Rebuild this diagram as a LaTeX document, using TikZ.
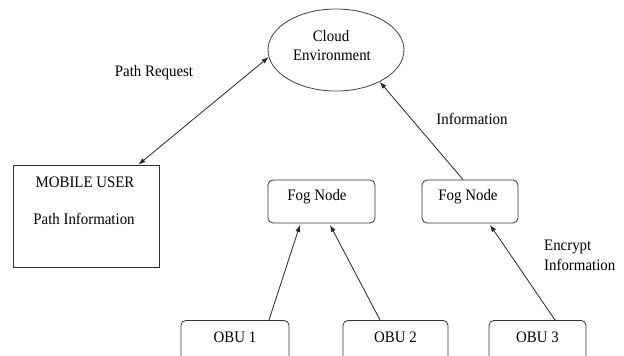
\documentclass[tikz,border=0pt]{standalone}
\usepackage{fontspec}
\setmainfont[FakeStretch=0.93]{Liberation Serif}
\usetikzlibrary{arrows.meta,calc,shapes.geometric}
\begin{document}
\begin{tikzpicture}[x=1pt,y=-1pt,
  every node/.style={font=\fontsize{16}{19}\selectfont, text=black},
  line/.style={draw=black!85, line width=0.8pt},
  arr/.style={line, -{Latex[length=7pt,width=5pt]}},
  dblarr/.style={line, {Latex[length=7pt,width=5pt]}-{Latex[length=7pt,width=5pt]}},
  cloudshape/.style={ellipse, draw=black!75, line width=0.8pt, minimum width=136pt, minimum height=82pt, inner sep=0pt},
  plainbox/.style={rectangle, draw=black!80, line width=0.8pt, inner sep=0pt},
  fogbox/.style={rectangle, rounded corners=5pt, draw=black!80, line width=0.8pt, inner sep=0pt, minimum height=43pt},
  obubox/.style={rectangle, rounded corners=5pt, draw=black!80, line width=0.8pt, inner sep=0pt, anchor=north, text height=22pt, text depth=30pt},
  lbl/.style={inner sep=0pt}
]
\useasboundingbox (0,0) rectangle (624,356);
\clip (0,0) rectangle (624,356);

% cloud
\node[cloudshape] (cloud) at (336,50) {};
\node[lbl] (cloudt1) at (331,36) {Cloud};
\node[lbl] (cloudt2) at (332,55) {Environment};

% mobile user
\node[plainbox, minimum width=146pt, minimum height=102pt] (mobile) at (86,216) {};
\node[lbl] (mobt1) at (85,182) {MOBILE USER};
\node[lbl] (mobt2) at (84,219) {Path Information};

% fog nodes
\node[fogbox, minimum width=107pt] (fog1) at (321.5,201.5) {};
\node[lbl] (fog1t) at (317,197) {Fog Node};
\node[fogbox, minimum width=96pt] (fog2) at (470,201.5) {};
\node[lbl] (fog2t) at (468,197) {Fog Node};

% OBUs
\node[obubox, minimum width=108pt] (obu1) at (235,320) {OBU 1};
\node[obubox, minimum width=105pt] (obu2) at (395.5,320) {OBU 2};
\node[obubox, minimum width=97pt] (obu3) at (537.5,320) {OBU 3};

% labels
\node[lbl] (pathreq) at (154,73) {Path Request};
\node[lbl] (info) at (472,119) {Information};
\node[lbl, align=left, anchor=west, font=\fontsize{16}{20}\selectfont] (encinfo) at (544,255) {Encrypt\\Information};

% connectors
\coordinate (mobtip) at ($(mobile.north east)+(-21,0)$);
\draw[dblarr] (mobtip) -- (cloud.186.7);
\coordinate (fog2top) at ($(fog2.north)+(-7,0)$);
\draw[arr] (fog2top) -- (cloud.324.6);
\coordinate (obu1top) at ($(obu1.north)+(34,0)$);
\coordinate (fog1in1) at ($(fog1.south)+(-21.5,1.5)$);
\draw[arr] (obu1top) -- (fog1in1);
\coordinate (obu2top) at ($(obu2.north)+(-15.5,0)$);
\coordinate (fog1in2) at ($(fog1.south)+(8.5,1.5)$);
\draw[arr] (obu2top) -- (fog1in2);
\coordinate (obu3top) at ($(obu3.north)+(17.5,0)$);
\coordinate (fog2in) at ($(fog2.south)+(20,1.5)$);
\draw[arr] (obu3top) -- (fog2in);
\end{tikzpicture}
\end{document}
